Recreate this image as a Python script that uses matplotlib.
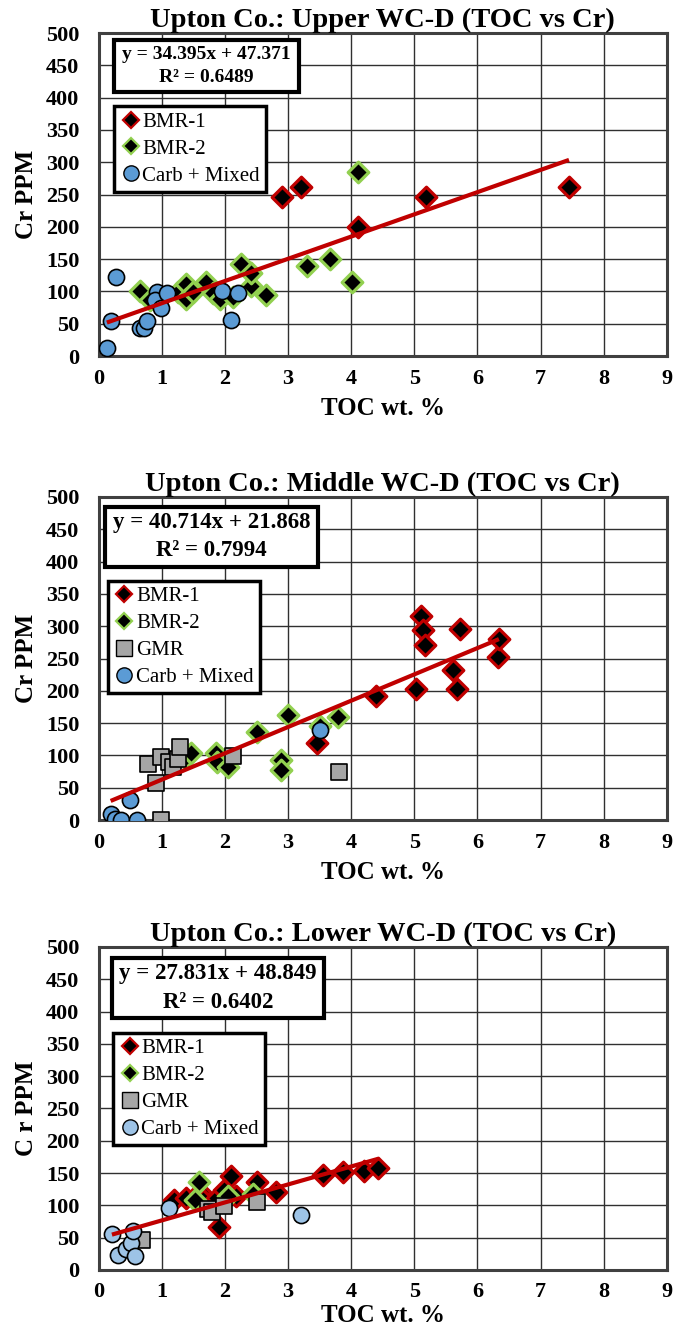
import numpy as np
import matplotlib
matplotlib.use("Agg")
import matplotlib.pyplot as plt
from matplotlib.lines import Line2D

plt.rcParams['font.family'] = ['Liberation Serif', 'DejaVu Serif']

# ---------------- data ----------------
# Upper WC-D
up_bmr1_x = [2.90, 3.20, 4.11, 5.19, 7.45]
up_bmr1_y = [246, 261, 200, 246, 261]
up_bmr2_x = [0.66, 0.82, 1.25, 1.39, 1.39, 1.49, 1.70, 1.81, 1.92, 2.12, 2.26, 2.41, 2.42, 2.65, 3.30, 3.67, 4.02, 4.11]
up_bmr2_y = [100, 86, 99, 112, 89, 99, 114, 97, 89, 92, 143, 108, 128, 95, 139, 150, 115, 285]
up_carb_x = [0.13, 0.28, 0.19, 0.65, 0.72, 0.76, 0.93, 0.89, 0.99, 1.08, 1.96, 2.21, 2.10]
up_carb_y = [13, 123, 55, 44, 44, 55, 99, 86, 74, 97, 100, 97, 56]

# Middle WC-D
mid_bmr1_x = [3.46, 4.39, 5.03, 5.10, 5.14, 5.17, 5.61, 5.68, 5.72, 6.33, 6.34]
mid_bmr1_y = [119, 192, 203, 316, 294, 271, 232, 203, 295, 253, 280]
mid_bmr2_x = [1.37, 1.46, 1.86, 1.87, 2.05, 2.51, 2.89, 2.89, 3.00, 3.51, 3.79]
mid_bmr2_y = [96, 104, 104, 90, 82, 137, 93, 78, 162, 146, 159]
mid_gmr_x = [0.78, 0.91, 0.98, 0.99, 1.12, 1.17, 1.25, 1.29, 2.12, 3.80]
mid_gmr_y = [87, 57, 97, 0, 90, 82, 95, 113, 99, 74]
mid_carb_x = [0.19, 0.26, 0.35, 0.50, 0.61, 3.50]
mid_carb_y = [10, 2, 0, 31, 0, 139]

# Lower WC-D
low_bmr1_x = [1.19, 1.39, 1.61, 1.65, 1.87, 1.90, 1.99, 2.09, 2.18, 2.50, 2.81, 3.55, 3.87, 4.20, 4.43]
low_bmr1_y = [108, 112, 121, 108, 112, 66, 123, 145, 114, 136, 121, 147, 151, 153, 158]
low_bmr2_x = [1.52, 1.59, 2.05, 2.44]
low_bmr2_y = [108, 136, 114, 117]
low_gmr_x = [0.69, 1.73, 1.80, 1.99, 2.50]
low_gmr_y = [47, 94, 90, 99, 105]
low_carb_x = [0.21, 0.30, 0.44, 0.51, 0.54, 0.57, 1.12, 3.21]
low_carb_y = [56, 23, 32, 41, 61, 21, 96, 85]

titles = ["Upton Co.: Upper WC-D (TOC vs Cr)",
          "Upton Co.: Middle WC-D (TOC vs Cr)",
          "Upton Co.: Lower WC-D (TOC vs Cr)"]
ylabels = ["Cr PPM", "Cr PPM", "C r PPM"]
slopes = [34.395, 40.714, 27.831]
intercepts = [47.371, 21.868, 48.849]
r2 = ["0.6489", "0.7994", "0.6402"]
x_ticks = list(range(0, 10))
y_ticks = list(range(0, 501, 50))

RED = "#C00000"
GREEN = "#92D050"
GREY = "#A6A6A6"
BLUE = "#5B9BD5"
LBLUE = "#9DC3E6"

styles = {
    "BMR-1": dict(marker="D", facecolor="black", edgecolor=RED),
    "BMR-2": dict(marker="D", facecolor="black", edgecolor=GREEN),
    "GMR": dict(marker="s", facecolor=GREY, edgecolor="black"),
    "Carb + Mixed": dict(marker="o", facecolor=BLUE, edgecolor="black"),
}

panels = [
    [("BMR-1", up_bmr1_x, up_bmr1_y), ("BMR-2", up_bmr2_x, up_bmr2_y),
     ("Carb + Mixed", up_carb_x, up_carb_y)],
    [("BMR-1", mid_bmr1_x, mid_bmr1_y), ("BMR-2", mid_bmr2_x, mid_bmr2_y),
     ("GMR", mid_gmr_x, mid_gmr_y), ("Carb + Mixed", mid_carb_x, mid_carb_y)],
    [("BMR-1", low_bmr1_x, low_bmr1_y), ("BMR-2", low_bmr2_x, low_bmr2_y),
     ("GMR", low_gmr_x, low_gmr_y), ("Carb + Mixed", low_carb_x, low_carb_y)],
]

# layout (figure fractions)
ax_rects = [[0.1464, 0.7329, 0.843, 0.2423],
            [0.1464, 0.3848, 0.843, 0.2424],
            [0.1464, 0.0473, 0.843, 0.2423]]
eq_boxes = [(0.027, 0.817, 0.325, 0.161),
            (0.011, 0.784, 0.375, 0.186),
            (0.024, 0.780, 0.373, 0.186)]
leg_anchor = [(0.027, 0.774), (0.016, 0.741), (0.025, 0.735)]
eq_size = [14, 16.5, 16.5]

fig = plt.figure(figsize=(6.74, 13.33), dpi=100)

for i, series in enumerate(panels):
    ax = fig.add_axes(ax_rects[i])
    handles = []
    all_x = []
    for name, xs, ys in series:
        st = dict(styles[name])
        if i == 2 and name == "Carb + Mixed":
            st["facecolor"] = LBLUE
        ew = 2.3 if st["marker"] == "D" else 1.2
        size = 110 if st["marker"] == "D" else 135
        ax.scatter(xs, ys, s=size, marker=st["marker"], c=st["facecolor"],
                   edgecolors=st["edgecolor"], linewidths=ew, zorder=3)
        all_x += xs
        handles.append(Line2D([], [], ls="none", marker=st["marker"],
                              markerfacecolor=st["facecolor"],
                              markeredgecolor=st["edgecolor"],
                              markeredgewidth=1.6 if st["marker"] == "D" else 1.0,
                              markersize=8 if st["marker"] == "D" else 11,
                              label=name))

    # linear trend line from the fitted equation
    tx = np.array([min(all_x), max(all_x)])
    ax.plot(tx, slopes[i] * tx + intercepts[i], color=RED, lw=3, zorder=4,
            solid_capstyle="butt")

    ax.set_xlim(0, 9)
    ax.set_ylim(0, 500)
    ax.set_xticks(x_ticks)
    ax.set_yticks(y_ticks)
    ax.grid(True, color="#303030", lw=1.0, zorder=0)
    ax.set_axisbelow(True)
    ax.tick_params(axis="y", length=0, labelsize=16, pad=14)
    ax.tick_params(axis="x", length=0, labelsize=16, pad=9)
    for lab in ax.get_xticklabels() + ax.get_yticklabels():
        lab.set_fontweight("bold")
    for sp in ax.spines.values():
        sp.set_linewidth(2.2)
        sp.set_color("#404040")

    ax.set_title(titles[i], fontsize=20.5, fontweight="bold", pad=4)
    ax.set_ylabel(ylabels[i], fontsize=18, fontweight="bold", labelpad=6)
    ax.set_xlabel("TOC wt. %", fontsize=18, fontweight="bold",
                  labelpad=6 if i < 2 else 1)

    # equation box
    bx, by, bw, bh = eq_boxes[i]
    ax.add_patch(plt.Rectangle((bx, by), bw, bh, transform=ax.transAxes,
                               facecolor="white", edgecolor="black", lw=3, zorder=5))
    ax.text(bx + bw / 2, by + bh / 2,
            "y = %.3fx + %.3f\nR² = %s" % (slopes[i], intercepts[i], r2[i]),
            transform=ax.transAxes, ha="center", va="center",
            fontsize=eq_size[i], fontweight="bold",
            linespacing=1.45, zorder=6)

    leg = ax.legend(handles=handles, loc="upper left",
                    bbox_to_anchor=leg_anchor[i], borderaxespad=0,
                    fancybox=False, framealpha=1, edgecolor="black",
                    fontsize=15, handletextpad=0.05, handlelength=1.0,
                    borderpad=0.3, labelspacing=0.35)
    leg.get_frame().set_linewidth(2.5)
    leg.set_zorder(6)

fig.savefig("out.png", dpi=100)
